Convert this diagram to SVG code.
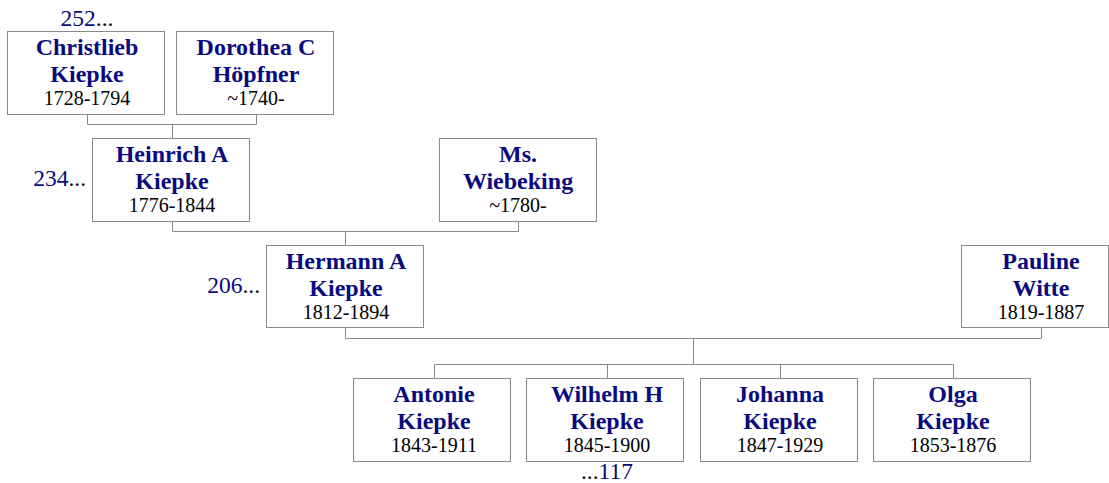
<svg xmlns="http://www.w3.org/2000/svg" width="1109" height="483" viewBox="0 0 1109 483">
<style>
.box{fill:#fff;stroke:#8a8a8a;stroke-width:1}
.ln{fill:none;stroke:#8a8a8a;stroke-width:1}
.nm{font-family:"Liberation Serif","Times New Roman",serif;font-weight:bold;font-size:24px;fill:#0a0a80;text-anchor:middle}
.dt{font-family:"Liberation Serif","Times New Roman",serif;font-size:20px;fill:#000;text-anchor:middle}
.num{font-family:"Liberation Serif","Times New Roman",serif;font-size:23.5px;fill:#0a0a80}
.dots{fill:#000}
</style>
<rect width="1109" height="483" fill="#fff"/>
<g id="connectors">
<polyline class="ln" points="87.5,114.5 87.5,124.5 256.5,124.5 256.5,114.5"/>
<line class="ln" x1="172.5" y1="124.5" x2="172.5" y2="138.5"/>
<polyline class="ln" points="172.5,221.5 172.5,231.5 518.5,231.5 518.5,221.5"/>
<line class="ln" x1="345.5" y1="231.5" x2="345.5" y2="245.5"/>
<polyline class="ln" points="345.5,327.5 345.5,338.5 1041.5,338.5 1041.5,327.5"/>
<line class="ln" x1="693.5" y1="338.5" x2="693.5" y2="364.5"/>
<polyline class="ln" points="434.5,378.5 434.5,364.5 953.5,364.5 953.5,378.5"/>
<line class="ln" x1="607.5" y1="364.5" x2="607.5" y2="378.5"/>
<line class="ln" x1="780.5" y1="364.5" x2="780.5" y2="378.5"/>
</g>
<g id="christlieb">
<rect class="box" x="7.5" y="31.5" width="157" height="83"/>
<text class="nm" x="87" y="55">Christlieb</text>
<text class="nm" x="87" y="82">Kiepke</text>
<text class="dt" x="87" y="105">1728-1794</text>
<text class="num" x="87" y="26" text-anchor="middle">252<tspan class="dots">...</tspan></text>
</g>
<g id="dorothea">
<rect class="box" x="176.5" y="31.5" width="157" height="83"/>
<text class="nm" x="256" y="55">Dorothea C</text>
<text class="nm" x="256" y="82">Höpfner</text>
<text class="dt" x="256" y="105">~1740-</text>
</g>
<g id="heinrich">
<rect class="box" x="92.5" y="138.5" width="157" height="83"/>
<text class="nm" x="172" y="162">Heinrich A</text>
<text class="nm" x="172" y="189">Kiepke</text>
<text class="dt" x="172" y="212">1776-1844</text>
<text class="num" x="86" y="186" text-anchor="end">234<tspan class="dots">...</tspan></text>
</g>
<g id="wiebeking">
<rect class="box" x="439.5" y="138.5" width="157" height="83"/>
<text class="nm" x="518" y="162">Ms.</text>
<text class="nm" x="518" y="189">Wiebeking</text>
<text class="dt" x="518" y="212">~1780-</text>
</g>
<g id="hermann">
<rect class="box" x="266.5" y="245.5" width="157" height="82"/>
<text class="nm" x="346" y="269">Hermann A</text>
<text class="nm" x="346" y="296">Kiepke</text>
<text class="dt" x="346" y="319">1812-1894</text>
<text class="num" x="260" y="293" text-anchor="end">206<tspan class="dots">...</tspan></text>
</g>
<g id="pauline">
<rect class="box" x="961.5" y="245.5" width="147" height="82"/>
<text class="nm" x="1041" y="269">Pauline</text>
<text class="nm" x="1041" y="296">Witte</text>
<text class="dt" x="1041" y="319">1819-1887</text>
</g>
<g id="antonie">
<rect class="box" x="353.5" y="378.5" width="157" height="83"/>
<text class="nm" x="434" y="402">Antonie</text>
<text class="nm" x="434" y="429">Kiepke</text>
<text class="dt" x="434" y="452">1843-1911</text>
</g>
<g id="wilhelm">
<rect class="box" x="526.5" y="378.5" width="157" height="83"/>
<text class="nm" x="607" y="402">Wilhelm H</text>
<text class="nm" x="607" y="429">Kiepke</text>
<text class="dt" x="607" y="452">1845-1900</text>
<text class="num" x="607" y="479" text-anchor="middle"><tspan class="dots">...</tspan>117</text>
</g>
<g id="johanna">
<rect class="box" x="700.5" y="378.5" width="157" height="83"/>
<text class="nm" x="780" y="402">Johanna</text>
<text class="nm" x="780" y="429">Kiepke</text>
<text class="dt" x="780" y="452">1847-1929</text>
</g>
<g id="olga">
<rect class="box" x="873.5" y="378.5" width="157" height="83"/>
<text class="nm" x="953" y="402">Olga</text>
<text class="nm" x="953" y="429">Kiepke</text>
<text class="dt" x="953" y="452">1853-1876</text>
</g>
</svg>
